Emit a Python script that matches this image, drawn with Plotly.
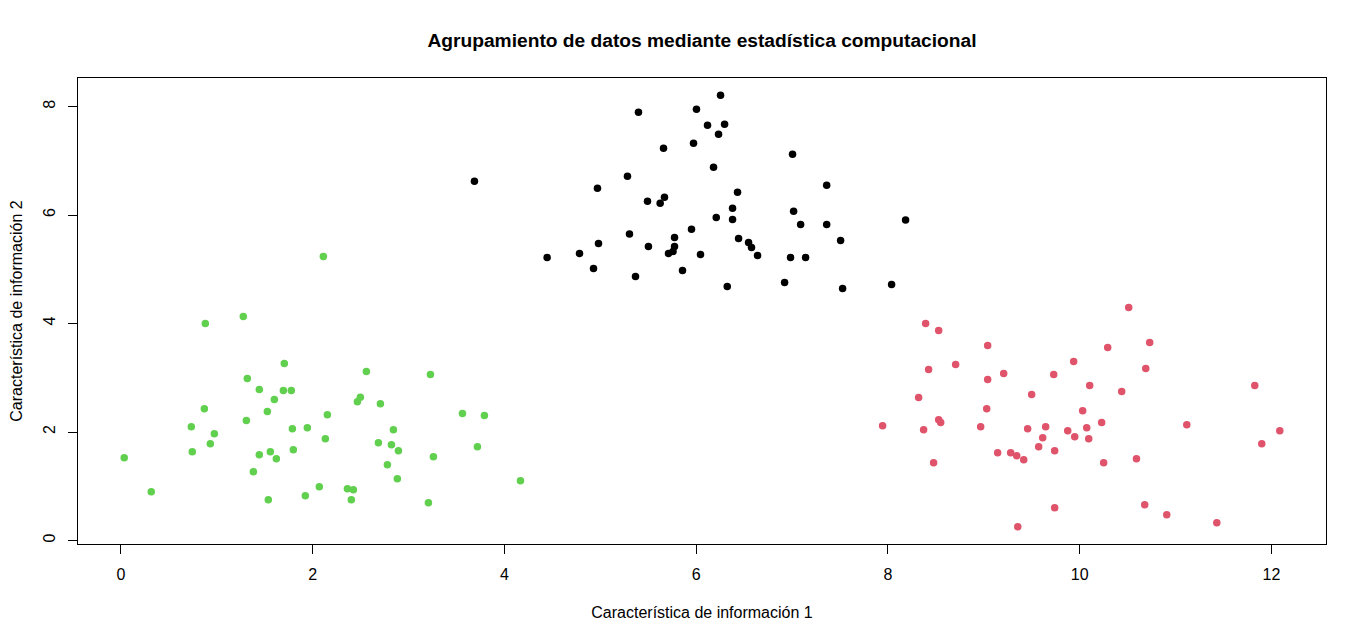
import plotly.graph_objects as go

# Grupo 1 (negro)
x_negro = [6.254, 5.398, 6.003, 6.118, 6.296, 6.233, 5.972, 5.659, 7.005, 6.181,
           3.687, 5.283, 4.970, 7.361, 6.431, 5.492, 5.669, 5.624, 6.379, 6.209,
           6.379, 8.184, 7.016, 7.089, 7.361, 5.951, 5.304, 5.774, 6.442, 4.981,
           6.546, 6.577, 5.502, 5.774, 7.506, 4.445, 4.783, 5.711, 5.758, 6.045,
           6.640, 6.984, 7.141, 4.929, 5.857, 5.367, 6.922, 6.324, 7.527, 8.038]
y_negro = [8.209, 7.895, 7.951, 7.655, 7.674, 7.489, 7.323, 7.231, 7.120, 6.880,
           6.622, 6.714, 6.493, 6.548, 6.419, 6.253, 6.326, 6.216, 6.124, 5.957,
           5.920, 5.907, 6.068, 5.828, 5.828, 5.736, 5.649, 5.588, 5.570, 5.477,
           5.496, 5.403, 5.422, 5.422, 5.532, 5.219, 5.293, 5.293, 5.330, 5.274,
           5.256, 5.219, 5.219, 5.016, 4.979, 4.868, 4.757, 4.683, 4.646, 4.720]

# Grupo 2 (rojo)
x_rojo = [10.511, 8.393, 8.529, 10.730, 9.040, 10.292, 9.937, 8.706, 8.424, 10.689,
          9.207, 9.729, 9.040, 10.104, 11.826, 10.438, 9.499, 8.320, 9.030, 10.031,
          11.117, 7.944, 8.529, 8.550, 10.229, 8.967, 9.645, 10.073, 8.372, 9.457,
          9.875, 12.087, 9.614, 9.948, 10.094, 11.899, 9.572, 9.144, 9.280, 9.343,
          9.416, 9.739, 10.592, 8.476, 10.250, 9.739, 10.678, 10.908, 11.430, 9.354]
y_rojo = [4.296, 4.000, 3.871, 3.650, 3.594, 3.557, 3.299, 3.243, 3.151, 3.170,
          3.077, 3.059, 2.967, 2.856, 2.856, 2.745, 2.690, 2.634, 2.431, 2.394,
          2.136, 2.117, 2.228, 2.173, 2.173, 2.099, 2.099, 2.080, 2.043, 2.062,
          2.025, 2.025, 1.896, 1.914, 1.877, 1.785, 1.730, 1.619, 1.619, 1.563,
          1.490, 1.656, 1.508, 1.434, 1.434, 0.603, 0.659, 0.474, 0.327, 0.253]

# Grupo 3 (verde)
x_verde = [2.111, 1.276, 0.880, 1.704, 2.560, 3.228, 1.318, 1.443, 1.694, 1.777,
           1.600, 2.497, 2.466, 2.706, 0.870, 1.527, 2.153, 3.562, 3.791, 0.734,
           1.308, 1.788, 1.944, 2.842, 0.974, 0.932, 2.132, 2.685, 2.821, 2.894,
           3.718, 0.744, 0.034, 1.443, 1.558, 1.621, 1.798, 3.259, 2.779, 1.381,
           2.883, 4.167, 0.316, 2.069, 2.362, 2.424, 1.537, 1.923, 2.403, 3.207]
y_verde = [5.237, 4.129, 4.000, 3.262, 3.114, 3.059, 2.985, 2.782, 2.764, 2.764,
           2.597, 2.640, 2.560, 2.523, 2.431, 2.376, 2.320, 2.339, 2.302, 2.099,
           2.210, 2.062, 2.080, 2.043, 1.970, 1.785, 1.877, 1.804, 1.767, 1.656,
           1.730, 1.637, 1.526, 1.582, 1.637, 1.508, 1.674, 1.545, 1.397, 1.268,
           1.139, 1.102, 0.899, 0.991, 0.954, 0.936, 0.751, 0.825, 0.751, 0.696]

x_ticks = [0, 2, 4, 6, 8, 10, 12]
y_ticks = [0, 2, 4, 6, 8]

grupos = [
    (x_negro, y_negro, "#000000"),
    (x_rojo, y_rojo, "#DF536B"),
    (x_verde, y_verde, "#61D04F"),
]

fig = go.Figure()
for xs, ys, color in grupos:
    fig.add_trace(go.Scatter(
        x=xs, y=ys, mode="markers",
        marker=dict(color=color, size=7.5, line=dict(width=0)),
        showlegend=False,
    ))

fuente = "Liberation Sans, Arial, sans-serif"

# la página añade 8px de margen al body, por eso los márgenes van desplazados
fig.update_layout(
    width=1366, height=642,
    margin=dict(l=70, r=48, t=70, b=106),
    paper_bgcolor="white", plot_bgcolor="white",
    font=dict(family=fuente, size=16, color="black"),
    title=dict(
        text="<b>Agrupamiento de datos mediante estadística computacional</b>",
        x=0.5, xref="paper", xanchor="center",
        y=1 - 32 / 642, yref="container", yanchor="middle",
        font=dict(size=19.2, color="black"),
    ),
)

fig.update_xaxes(
    range=[-0.448, 12.569], tickvals=x_ticks,
    showgrid=False, zeroline=False, automargin=False,
    showline=True, linecolor="black", linewidth=1, mirror=True,
    ticks="outside", ticklen=9, tickcolor="black", tickwidth=1,
    ticklabelstandoff=7,
    title=dict(text="Característica de información 1", standoff=24,
               font=dict(size=16)),
)
fig.update_yaxes(
    range=[-0.065, 8.527], tickvals=y_ticks,
    showgrid=False, zeroline=False, automargin=False,
    showline=True, linecolor="black", linewidth=1, mirror=True,
    ticks="outside", ticklen=9, tickcolor="black", tickwidth=1,
    tickangle=-90, ticklabelstandoff=7,
    title=dict(text="Característica de información 2", standoff=25,
               font=dict(size=16)),
)

fig.write_html("out.html")
